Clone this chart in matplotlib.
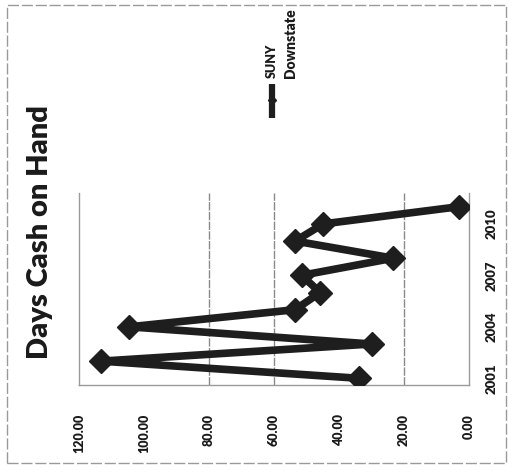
import matplotlib
matplotlib.use("Agg")
import matplotlib.pyplot as plt
from matplotlib.lines import Line2D
from matplotlib.patches import Rectangle

plt.rcParams['font.family'] = ['Lato', 'DejaVu Sans']

# Days cash on hand, one value per year (chart is laid out turned on its side)
years = [2001, 2002, 2003, 2004, 2005, 2006, 2007, 2008, 2009, 2010, 2011]
days_cash = [33.8, 113.2, 30.0, 104.5, 53.5, 45.8, 51.5, 23.3, 53.5, 44.8, 3.2]
value_ticks = [0, 20, 40, 60, 80, 100, 120]
year_labels = ['2001', '2004', '2007', '2010']
year_label_idx = [0, 3, 6, 9]
grid_values = [20, 60, 80]

W, H = 509, 473
fig = plt.figure(figsize=(W / 100, H / 100), dpi=100)
ax = fig.add_axes([79 / W, 1 - 385 / H, 390 / W, 192 / H])

pos = list(range(len(years)))
ax.plot(days_cash, pos, color='#1e1e1e', linewidth=5.5, marker='D',
        markersize=12, markerfacecolor='#1e1e1e', markeredgecolor='#1e1e1e',
        solid_joinstyle='round', zorder=3)

for g in grid_values:
    ax.axvline(g, color='#8a8a8a', linewidth=1.0, linestyle=(0, (6, 1)), zorder=1)

ax.set_xlim(120, 0)
ax.set_ylim(-0.39, 10.8)

ax.set_xticks(value_ticks)
ax.set_xticklabels([f'{v:.2f}' for v in value_ticks], rotation=90,
                   fontsize=9, fontweight='heavy', color='#1a1a1a')
ax.tick_params(axis='x', length=0, pad=21)

ax.yaxis.tick_right()
ax.set_yticks(year_label_idx)
ax.set_yticklabels(year_labels, rotation=90, va='center', ha='left',
                   fontsize=9.5, fontweight='heavy', color='#1a1a1a')
ax.tick_params(axis='y', length=0, pad=12)

for side in ['left', 'bottom', 'right']:
    ax.spines[side].set_color('#9a9a9a')
    ax.spines[side].set_linewidth(1.0)
ax.spines['top'].set_visible(False)

# title, rotated with the chart
fig.text(40 / W, 1 - 232 / H, 'Days Cash on Hand', rotation=90,
         ha='center', va='center', fontsize=21, fontweight='heavy', color='#1a1a1a')

# legend drawn by hand so it can be turned too
fig.add_artist(Line2D([272 / W] * 3, [1 - 118 / H, 1 - 100 / H, 1 - 84 / H],
                      color='#1e1e1e', linewidth=4.5, marker='D', markersize=4,
                      markevery=[1], solid_capstyle='butt',
                      transform=fig.transFigure))
fig.text(272 / W, 1 - 78 / H, 'SUNY', rotation=90, ha='center', va='bottom',
         fontsize=9, fontweight='heavy', color='#1a1a1a')
fig.text(291 / W, 1 - 78 / H, 'Downstate', rotation=90, ha='center', va='bottom',
         fontsize=10, fontweight='heavy', color='#1a1a1a')

# outer chart border
fig.add_artist(Rectangle((7 / W, 1 - 463 / H), 499 / W, 458 / H, fill=False,
                         edgecolor='#9a9a9a', linewidth=1.0, linestyle=(0, (8, 2)),
                         transform=fig.transFigure))

fig.savefig('out.png', dpi=100)
